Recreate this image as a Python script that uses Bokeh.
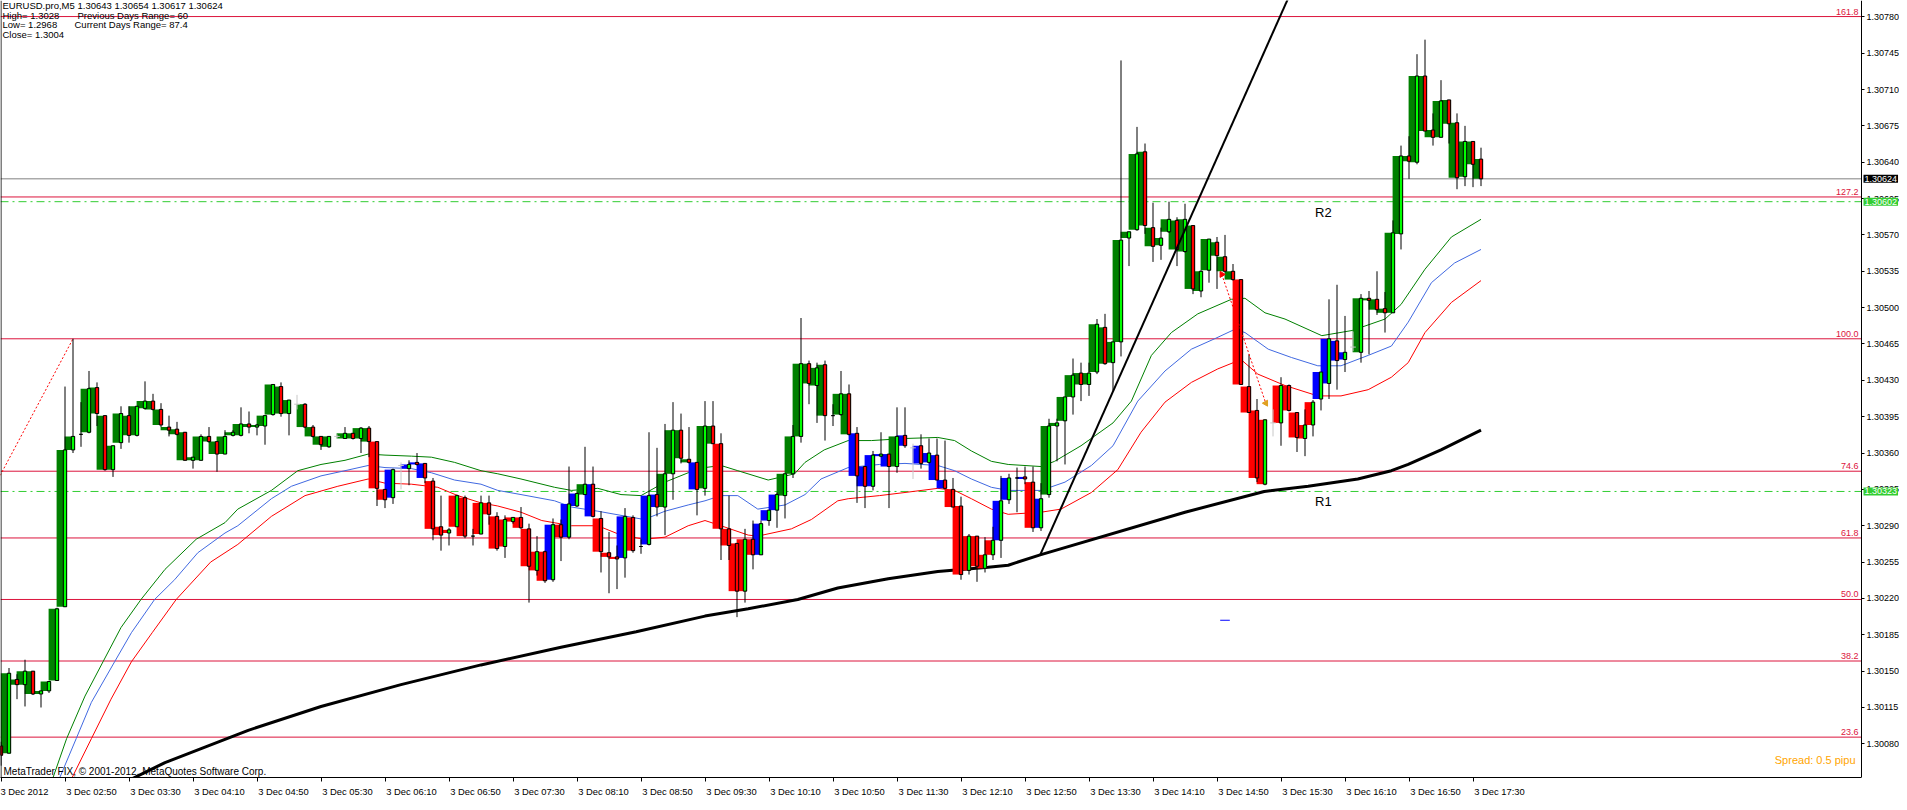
from math import pi
from bokeh.plotting import figure
from bokeh.models import LinearAxis, FixedTicker, PrintfTickFormatter, Range1d, Label, Span
from bokeh.embed import file_html
from bokeh.resources import INLINE
from bokeh.core.properties import value

# ---------------- data (EURUSD.pro, M5, 3 Dec 2012) ----------------
OPEN = [1.30078, 1.30071, 1.30142, 1.30137, 1.30150, 1.30128, 1.30131, 1.30141, 1.30212, 1.30363,
        1.30378, 1.30380, 1.30423, 1.30396, 1.30344, 1.30370, 1.30396, 1.30377, 1.30403, 1.30410,
        1.30402, 1.30385, 1.30383, 1.30380, 1.30353, 1.30353, 1.30376, 1.30371, 1.30359, 1.30377,
        1.30377, 1.30388, 1.30385, 1.30386, 1.30397, 1.30424, 1.30398, 1.30407, 1.30407, 1.30385,
        1.30376, 1.30366, 1.30376, 1.30374, 1.30379, 1.30374, 1.30384, 1.30371, 1.30325, 1.30317,
        1.30348, 1.30345, 1.30351, 1.30350, 1.30333, 1.30289, 1.30283, 1.30289, 1.30317, 1.30280,
        1.30282, 1.30312, 1.30299, 1.30270, 1.30294, 1.30298, 1.30287, 1.30247, 1.30265, 1.30238,
        1.30291, 1.30279, 1.30309, 1.30320, 1.30330, 1.30297, 1.30264, 1.30260, 1.30259, 1.30298,
        1.30270, 1.30272, 1.30320, 1.30308, 1.30340, 1.30382, 1.30354, 1.30351, 1.30326, 1.30386,
        1.30369, 1.30287, 1.30273, 1.30227, 1.30277, 1.30262, 1.30295, 1.30305, 1.30319, 1.30340,
        1.30376, 1.30446, 1.30425, 1.30445, 1.30396, 1.30397, 1.30417, 1.30379, 1.30347, 1.30328,
        1.30357, 1.30359, 1.30347, 1.30377, 1.30365, 1.30367, 1.30351, 1.30358, 1.30334, 1.30325,
        1.30309, 1.30247, 1.30280, 1.30249, 1.30262, 1.30276, 1.30315, 1.30336, 1.30337, 1.30332,
        1.30288, 1.30320, 1.30386, 1.30391, 1.30414, 1.30437, 1.30426, 1.30438, 1.30481, 1.30447,
        1.30467, 1.30567, 1.30575, 1.30650, 1.30577, 1.30560, 1.30573, 1.30584, 1.30554, 1.30579,
        1.30516, 1.30536, 1.30563, 1.30549, 1.30535, 1.30527, 1.30424, 1.30401, 1.30330, 1.30389,
        1.30389, 1.30425, 1.30399, 1.30374, 1.30387, 1.30412, 1.30427, 1.30468, 1.30450, 1.30462,
        1.30457, 1.30509, 1.30508, 1.30499, 1.30495, 1.30571, 1.30646, 1.30640, 1.30723, 1.30671,
        1.30664, 1.30700, 1.30678, 1.30626, 1.30660, 1.30643]
HIGH = [1.30082, 1.30153, 1.30147, 1.30161, 1.30150, 1.30131, 1.30140, 1.30211, 1.30424, 1.30470,
        1.30409, 1.30439, 1.30428, 1.30396, 1.30367, 1.30405, 1.30405, 1.30405, 1.30429, 1.30417,
        1.30408, 1.30396, 1.30390, 1.30380, 1.30356, 1.30378, 1.30385, 1.30371, 1.30382, 1.30382,
        1.30404, 1.30400, 1.30388, 1.30396, 1.30426, 1.30428, 1.30411, 1.30416, 1.30408, 1.30387,
        1.30376, 1.30376, 1.30378, 1.30385, 1.30379, 1.30385, 1.30386, 1.30371, 1.30325, 1.30345,
        1.30351, 1.30353, 1.30360, 1.30350, 1.30336, 1.30319, 1.30288, 1.30320, 1.30319, 1.30287,
        1.30319, 1.30319, 1.30303, 1.30300, 1.30298, 1.30308, 1.30292, 1.30280, 1.30266, 1.30297,
        1.30296, 1.30347, 1.30322, 1.30366, 1.30347, 1.30304, 1.30284, 1.30271, 1.30307, 1.30300,
        1.30277, 1.30380, 1.30365, 1.30388, 1.30409, 1.30398, 1.30385, 1.30351, 1.30410, 1.30410,
        1.30379, 1.30319, 1.30273, 1.30287, 1.30295, 1.30295, 1.30305, 1.30322, 1.30340, 1.30387,
        1.30490, 1.30449, 1.30447, 1.30449, 1.30407, 1.30439, 1.30426, 1.30385, 1.30347, 1.30362,
        1.30380, 1.30359, 1.30404, 1.30404, 1.30369, 1.30378, 1.30374, 1.30374, 1.30372, 1.30336,
        1.30318, 1.30282, 1.30280, 1.30279, 1.30289, 1.30338, 1.30340, 1.30346, 1.30347, 1.30347,
        1.30331, 1.30393, 1.30393, 1.30414, 1.30451, 1.30447, 1.30447, 1.30489, 1.30494, 1.30467,
        1.30738, 1.30573, 1.30674, 1.30658, 1.30601, 1.30577, 1.30602, 1.30587, 1.30600, 1.30579,
        1.30536, 1.30566, 1.30568, 1.30570, 1.30542, 1.30527, 1.30455, 1.30412, 1.30392, 1.30402,
        1.30433, 1.30426, 1.30399, 1.30402, 1.30411, 1.30438, 1.30508, 1.30522, 1.30492, 1.30477,
        1.30513, 1.30516, 1.30535, 1.30515, 1.30584, 1.30656, 1.30665, 1.30744, 1.30758, 1.30687,
        1.30719, 1.30700, 1.30687, 1.30675, 1.30660, 1.30654]
LOW = [1.30059, 1.30071, 1.30123, 1.30116, 1.30127, 1.30115, 1.30129, 1.30141, 1.30212, 1.30360,
       1.30366, 1.30379, 1.30386, 1.30343, 1.30337, 1.30364, 1.30370, 1.30376, 1.30402, 1.30401,
       1.30385, 1.30376, 1.30377, 1.30353, 1.30345, 1.30353, 1.30370, 1.30342, 1.30359, 1.30376,
       1.30376, 1.30379, 1.30377, 1.30368, 1.30396, 1.30395, 1.30377, 1.30402, 1.30384, 1.30375,
       1.30363, 1.30365, 1.30374, 1.30374, 1.30373, 1.30360, 1.30356, 1.30309, 1.30307, 1.30311,
       1.30325, 1.30329, 1.30348, 1.30331, 1.30276, 1.30266, 1.30271, 1.30289, 1.30278, 1.30271,
       1.30282, 1.30291, 1.30266, 1.30259, 1.30292, 1.30287, 1.30216, 1.30242, 1.30235, 1.30236,
       1.30256, 1.30277, 1.30308, 1.30320, 1.30298, 1.30245, 1.30225, 1.30229, 1.30240, 1.30264,
       1.30263, 1.30271, 1.30299, 1.30281, 1.30315, 1.30350, 1.30350, 1.30300, 1.30319, 1.30369,
       1.30257, 1.30257, 1.30202, 1.30216, 1.30248, 1.30262, 1.30290, 1.30288, 1.30297, 1.30336,
       1.30370, 1.30407, 1.30389, 1.30372, 1.30386, 1.30396, 1.30377, 1.30312, 1.30307, 1.30324,
       1.30356, 1.30307, 1.30341, 1.30365, 1.30335, 1.30345, 1.30350, 1.30334, 1.30325, 1.30308,
       1.30238, 1.30243, 1.30236, 1.30245, 1.30257, 1.30259, 1.30311, 1.30303, 1.30330, 1.30284,
       1.30285, 1.30317, 1.30352, 1.30349, 1.30397, 1.30410, 1.30415, 1.30436, 1.30445, 1.30420,
       1.30453, 1.30540, 1.30574, 1.30571, 1.30544, 1.30546, 1.30572, 1.30540, 1.30553, 1.30513,
       1.30510, 1.30524, 1.30518, 1.30534, 1.30526, 1.30426, 1.30399, 1.30332, 1.30329, 1.30376,
       1.30367, 1.30400, 1.30361, 1.30357, 1.30376, 1.30401, 1.30412, 1.30421, 1.30438, 1.30458,
       1.30447, 1.30455, 1.30493, 1.30476, 1.30495, 1.30556, 1.30624, 1.30638, 1.30670, 1.30656,
       1.30664, 1.30658, 1.30614, 1.30617, 1.30616, 1.30617]
CLOSE = [1.30069, 1.30148, 1.30137, 1.30150, 1.30128, 1.30131, 1.30140, 1.30210, 1.30363, 1.30376,
         1.30378, 1.30422, 1.30398, 1.30344, 1.30367, 1.30398, 1.30377, 1.30405, 1.30410, 1.30402,
         1.30387, 1.30382, 1.30378, 1.30353, 1.30356, 1.30376, 1.30371, 1.30359, 1.30376, 1.30380,
         1.30388, 1.30385, 1.30387, 1.30396, 1.30426, 1.30398, 1.30411, 1.30407, 1.30385, 1.30376,
         1.30368, 1.30376, 1.30376, 1.30379, 1.30374, 1.30384, 1.30371, 1.30326, 1.30315, 1.30344,
         1.30348, 1.30349, 1.30349, 1.30336, 1.30287, 1.30281, 1.30286, 1.30319, 1.30280, 1.30280,
         1.30312, 1.30301, 1.30268, 1.30296, 1.30298, 1.30288, 1.30251, 1.30265, 1.30237, 1.30291,
         1.30279, 1.30311, 1.30321, 1.30330, 1.30299, 1.30265, 1.30260, 1.30258, 1.30299, 1.30266,
         1.30270, 1.30319, 1.30308, 1.30340, 1.30382, 1.30355, 1.30351, 1.30325, 1.30386, 1.30369,
         1.30287, 1.30271, 1.30227, 1.30277, 1.30262, 1.30292, 1.30305, 1.30320, 1.30340, 1.30376,
         1.30446, 1.30427, 1.30442, 1.30396, 1.30396, 1.30417, 1.30378, 1.30338, 1.30328, 1.30358,
         1.30359, 1.30347, 1.30376, 1.30367, 1.30365, 1.30350, 1.30360, 1.30334, 1.30326, 1.30308,
         1.30243, 1.30280, 1.30251, 1.30262, 1.30276, 1.30314, 1.30336, 1.30336, 1.30335, 1.30288,
         1.30316, 1.30386, 1.30389, 1.30414, 1.30435, 1.30426, 1.30437, 1.30484, 1.30446, 1.30467,
         1.30565, 1.30573, 1.30648, 1.30579, 1.30559, 1.30567, 1.30585, 1.30556, 1.30585, 1.30518,
         1.30535, 1.30566, 1.30550, 1.30535, 1.30527, 1.30426, 1.30399, 1.30336, 1.30392, 1.30389,
         1.30425, 1.30401, 1.30375, 1.30387, 1.30409, 1.30438, 1.30470, 1.30449, 1.30457, 1.30462,
         1.30509, 1.30507, 1.30498, 1.30495, 1.30572, 1.30646, 1.30641, 1.30723, 1.30670, 1.30664,
         1.30699, 1.30677, 1.30625, 1.30660, 1.30638, 1.30624]
# body-colour indicator state per bar: g = dark green, r = red, b = blue, x = grey cross (no body)
STATE = ("rggggggggg" "gggggggggg" "gggggggggg" "gggggggxgg" "ggxggggrrb"
         "xbbbrrrrrr" "rrrrrrrrrb" "rbbgbrrrbr" "rbbggggbgg" "rrrrrbbbgg"
         "gggggggbbb" "bbgbxbbbbr" "rrrrrbbbbr" "bggggggggg" "gggggggggg"
         "gggggrrrrx" "rrrrrbbbbx" "gggggggggg" "gggggg")

TIME_LABELS = ["3 Dec 2012", "3 Dec 02:50", "3 Dec 03:30", "3 Dec 04:10", "3 Dec 04:50", "3 Dec 05:30",
               "3 Dec 06:10", "3 Dec 06:50", "3 Dec 07:30", "3 Dec 08:10", "3 Dec 08:50", "3 Dec 09:30",
               "3 Dec 10:10", "3 Dec 10:50", "3 Dec 11:30", "3 Dec 12:10", "3 Dec 12:50", "3 Dec 13:30",
               "3 Dec 14:10", "3 Dec 14:50", "3 Dec 15:30", "3 Dec 16:10", "3 Dec 16:50", "3 Dec 17:30"]
BARS_PER_LABEL = 8

# moving averages, read at bar positions
MA_GREEN_X = [5.0, 6.3, 8.2, 10.5, 12.75, 15, 17.5, 20.5, 24.4, 28, 29.6, 33.8, 37.1, 40, 43, 45.9, 48, 51.3,
              53.8, 56.7, 60, 62.1, 65, 69.2, 71.3, 74.6, 77.5, 80, 83, 85.9, 88, 90, 92.1, 95.9, 99.2,
              100.5, 102.9, 105.9, 108.8, 113, 117.1, 119.2, 121.3, 123.8, 125.9, 130, 131.7, 135, 139,
              141.3, 143.8, 146.3, 149.6, 153.8, 155.5, 158, 160.5, 165.1, 168.9, 173, 175, 178, 181.3, 185]
MA_GREEN = [1.30014, 1.30043, 1.30085, 1.30126, 1.30159, 1.30192, 1.30219, 1.30248, 1.30277, 1.30293, 1.30306,
            1.30324, 1.30343, 1.30349, 1.30353, 1.30359, 1.30358, 1.30357, 1.30356, 1.30351, 1.30343,
            1.30340, 1.30335, 1.30327, 1.30324, 1.30326, 1.30320, 1.30319, 1.30332, 1.30341, 1.30346,
            1.30348, 1.30343, 1.30334, 1.30340, 1.30351, 1.30363, 1.30372, 1.30372, 1.30374, 1.30375,
            1.30372, 1.30362, 1.30352, 1.30349, 1.30347, 1.30352, 1.30367, 1.30389, 1.30410, 1.30454,
            1.30476, 1.30494, 1.30508, 1.30509, 1.30495, 1.30489, 1.30473, 1.30478, 1.30489, 1.30503,
            1.30537, 1.30568, 1.30585]
MA_BLUE_X = [7.1, 9.4, 11.3, 14.2, 16.3, 19.2, 21.7, 24.6, 28, 29.6, 33.8, 36.3, 40, 43, 45.9, 48, 51.3, 53.8,
             56.7, 60, 62.1, 65, 69.2, 71.3, 74.6, 77.5, 80.4, 83, 85.9, 88, 90, 92.1, 94.6, 98, 100.5,
             102.5, 105.9, 109.8, 113, 117.1, 119.2, 121.3, 123.8, 125.9, 130, 133, 136.3, 139, 142.1,
             145.5, 148.8, 151.7, 154.2, 155.5, 158.4, 161.3, 164.6, 167.5, 170.9, 173.8, 175.9, 178.8,
             181.7, 185]
MA_BLUE = [1.30043, 1.30085, 1.30120, 1.30159, 1.30187, 1.30219, 1.30238, 1.30264, 1.30283, 1.30290, 1.30316,
           1.30328, 1.30338, 1.30343, 1.30348, 1.30346, 1.30345, 1.30341, 1.30334, 1.30330, 1.30324,
           1.30320, 1.30314, 1.30308, 1.30304, 1.30300, 1.30296, 1.30304, 1.30310, 1.30314, 1.30319,
           1.30319, 1.30306, 1.30310, 1.30320, 1.30335, 1.30346, 1.30349, 1.30350, 1.30348, 1.30343,
           1.30335, 1.30327, 1.30324, 1.30324, 1.30332, 1.30348, 1.30367, 1.30410, 1.30439, 1.30460,
           1.30470, 1.30479, 1.30476, 1.30460, 1.30452, 1.30444, 1.30444, 1.30454, 1.30463, 1.30486,
           1.30524, 1.30543, 1.30556]
MA_RED_X = [8.6, 11.3, 13.75, 16.3, 18.9, 21.9, 26.2, 29.6, 33.8, 38, 42.1, 45.9, 48, 51.3, 54.6, 57.1, 60,
            62.1, 65, 67.6, 71.3, 74.6, 77.5, 80.4, 83, 85.9, 88, 90, 93.4, 94.6, 98.8, 101.3, 104.6, 105.9,
            109.8, 113, 117.1, 119.2, 121.3, 123.8, 125.9, 130, 132.5, 136.3, 139.6, 142.5, 145.5, 148.8,
            152.1, 155, 157.1, 160.5, 164.6, 167.5, 170.9, 173.8, 175.9, 178, 181.3, 185]
MA_RED = [1.30043, 1.30085, 1.30123, 1.30159, 1.30187, 1.30219, 1.30255, 1.30272, 1.30299, 1.30319, 1.30328,
          1.30335, 1.30331, 1.30330, 1.30327, 1.30319, 1.30312, 1.30309, 1.30303, 1.30295, 1.30290,
          1.30290, 1.30281, 1.30277, 1.30279, 1.30290, 1.30295, 1.30290, 1.30281, 1.30280, 1.30287,
          1.30296, 1.30314, 1.30316, 1.30319, 1.30322, 1.30326, 1.30324, 1.30316, 1.30306, 1.30301,
          1.30303, 1.30306, 1.30322, 1.30344, 1.30380, 1.30409, 1.30428, 1.30441, 1.30450, 1.30436,
          1.30425, 1.30415, 1.30415, 1.30421, 1.30433, 1.30447, 1.30476, 1.30505, 1.30526]
MA_BLACK_X = [13.0, 15.5, 20.5, 30.9, 40, 50, 60, 70, 79.4, 88, 93.4, 99.6, 104.6, 110.9, 117.1, 123.4,
              125.9, 129.9, 148, 157.9, 163.4, 169.6, 173.8, 175.9, 180, 185]
MA_BLACK = [1.30035, 1.30043, 1.30062, 1.30093, 1.30116, 1.30137, 1.30156, 1.30173, 1.30188, 1.30203, 1.30210,
            1.30219, 1.30230, 1.30239, 1.30246, 1.30250, 1.30252, 1.30262, 1.30303, 1.30323, 1.30328,
            1.30335, 1.30343, 1.30349, 1.30363, 1.30382]

FIB_LEVELS = [23.6, 38.2, 50.0, 61.8, 74.6, 100.0, 127.2, 161.8]
FIB_0, FIB_100 = 1.29968, 1.30470
FIB_LINE_X = [-25.75, 9.0]
R_LEVELS = [1.30602, 1.30323]
R_NAMES = ["R2", "R1"]
R_LABEL_X = 164.25
TREND_X = [129.9, 161.6]
TREND_Y = [1.30262, 1.30810]
TRADE_X = [152.6, 158.1]
TRADE_Y = [1.30532, 1.30408]
BLUE_MARK_X = [152.4, 153.6]
BLUE_MARK_Y = 1.30199
PRICE_TICKS = [round(1.30045 + 0.00035 * i, 5) for i in range(22)]
BID = CLOSE[-1]
SPREAD_TEXT = "Spread: 0.5 pipu"

# ---------------- layout ----------------
FIG_W = 1899
FRAME_H = 777
PX_BAR = 8.0
X0 = -1.0 / 16
X1 = X0 + FIG_W / PX_BAR
X_AXIS = X0 + (1869 - 8) / PX_BAR        # where the price scale sits
PX_PER_PRICE = 103863.0
Y_TOP = 1.307957
Y_BOT = Y_TOP - FRAME_H / PX_PER_PRICE
DX = 1.0 / PX_BAR
DY = 1.0 / PX_PER_PRICE
FONT = value("Liberation Sans")

p = figure(width=FIG_W, frame_height=FRAME_H, x_range=Range1d(X0, X1), y_range=Range1d(Y_BOT, Y_TOP),
           output_backend="svg", toolbar_location=None, x_axis_location=None, y_axis_location=None,
           min_border_left=0, min_border_top=0, min_border_right=0, min_border_bottom=0)
p.background_fill_color = "white"
p.border_fill_color = "white"
p.outline_line_color = None
p.grid.visible = False

# price axis at a fixed position inside the chart window
yax = LinearAxis(ticker=FixedTicker(ticks=PRICE_TICKS), formatter=PrintfTickFormatter(format="%.5f"),
                 fixed_location=X_AXIS)
yax.axis_line_color = "black"
yax.major_tick_out = 3
yax.major_tick_in = 0
yax.minor_tick_line_color = None
yax.major_label_standoff = 2
yax.major_label_text_font = "Liberation Sans"
yax.major_label_text_font_size = "9px"
yax.major_label_text_color = "black"
p.add_layout(yax, "right")

tick_pos = [i * BARS_PER_LABEL for i in range(len(TIME_LABELS))]
label_pos, overrides = [], {}
for i, (t, lab) in enumerate(zip(tick_pos, TIME_LABELS)):
    off = 22.0 / PX_BAR if i == 0 else 26.5 / PX_BAR
    lp = t + off
    label_pos.append(lp)
    overrides[lp] = lab
xax = LinearAxis(ticker=FixedTicker(ticks=label_pos, minor_ticks=tick_pos), major_label_overrides=overrides,
                 bounds=(X0, X_AXIS))
xax.axis_line_color = "black"
xax.major_tick_line_color = None
xax.major_tick_out = 0
xax.major_tick_in = 0
xax.minor_tick_line_color = "black"
xax.minor_tick_out = 4
xax.minor_tick_in = 0
xax.major_label_standoff = 4
xax.major_label_text_font = "Liberation Sans"
xax.major_label_text_font_size = "9.4px"
xax.major_label_text_color = "black"
p.add_layout(xax, "below")

# left border of the chart window
p.add_layout(Span(location=X0 + 0.5 * DX, dimension="height", line_color="black", line_width=1))

# fibonacci levels
fib_prices = [FIB_0 + lv / 100.0 * (FIB_100 - FIB_0) for lv in FIB_LEVELS]
p.segment(x0=[X0] * len(fib_prices), x1=[X_AXIS] * len(fib_prices), y0=fib_prices, y1=fib_prices,
          line_color="#dc143c", line_width=1)
p.text(x=[X_AXIS - 3 * DX] * len(fib_prices), y=[v + 2 * DY for v in fib_prices],
       text=["%.1f" % lv for lv in FIB_LEVELS], text_font=FONT, text_font_size="9px",
       text_color="#dc143c", text_align="right", text_baseline="bottom")
p.line(x=FIB_LINE_X, y=[FIB_0, FIB_100], line_color="red", line_dash="2 2", line_width=1)

# support / resistance and bid lines
p.segment(x0=[X0] * 2, x1=[X_AXIS] * 2, y0=R_LEVELS, y1=R_LEVELS, line_color="#32cd32", line_width=1,
          line_dash="8 4 2 4")
p.segment(x0=[X0], x1=[X_AXIS], y0=[BID], y1=[BID], line_color="#808080", line_width=1)

# moving averages
p.line(x=MA_GREEN_X, y=MA_GREEN, line_color="#008000", line_width=1)
p.line(x=MA_BLUE_X, y=MA_BLUE, line_color="#4169e1", line_width=1)
p.line(x=MA_RED_X, y=MA_RED, line_color="#ff0000", line_width=1)
p.line(x=MA_BLACK_X, y=MA_BLACK, line_color="black", line_width=3)

# colour-state body blocks
n = min(len(OPEN), len(HIGH), len(LOW), len(CLOSE), len(STATE))
idx = list(range(n))
block_colors = {"g": "#008000", "r": "#ff0000", "b": "#0000ff"}
for st, col in block_colors.items():
    ks = [i for i in idx if STATE[i] == st]
    p.quad(left=[k - 1.05 for k in ks], right=[k + 0.25 for k in ks],
           bottom=[min(OPEN[k], CLOSE[k]) for k in ks], top=[max(OPEN[k], CLOSE[k]) for k in ks],
           fill_color=col, line_color=None)

# candles
real = [i for i in idx if STATE[i] != "x"]
ghost = [i for i in idx if STATE[i] == "x"]
p.segment(x0=real, x1=real, y0=[LOW[i] for i in real], y1=[HIGH[i] for i in real],
          line_color="black", line_width=1)
bull = [i for i in real if CLOSE[i] >= OPEN[i]]
bear = [i for i in real if CLOSE[i] < OPEN[i]]
p.vbar(x=bull, width=0.42, bottom=[OPEN[i] for i in bull], top=[CLOSE[i] for i in bull],
       fill_color="#00ff00", line_color="black", line_width=1)
p.vbar(x=bear, width=0.42, bottom=[CLOSE[i] for i in bear], top=[OPEN[i] for i in bear],
       fill_color="#ff0000", line_color="black", line_width=1)
p.segment(x0=ghost, x1=ghost, y0=[LOW[i] for i in ghost], y1=[HIGH[i] for i in ghost],
          line_color="#c8c8c8", line_width=1)
p.segment(x0=[i - 0.35 for i in ghost], x1=[i + 0.35 for i in ghost], y0=[CLOSE[i] for i in ghost],
          y1=[CLOSE[i] for i in ghost], line_color="#c8c8c8", line_width=1)

# drawn objects
p.line(x=TREND_X, y=TREND_Y, line_color="black", line_width=2)
p.line(x=TRADE_X, y=TRADE_Y, line_color="red", line_dash="2 2", line_width=1)
p.scatter(x=[TRADE_X[0]], y=[TRADE_Y[0]], marker="triangle", size=6, color="red", angle=-pi / 2)
p.scatter(x=[TRADE_X[1]], y=[TRADE_Y[1]], marker="triangle", size=6, color="#e0a020", angle=pi / 2)
p.segment(x0=[BLUE_MARK_X[0]], x1=[BLUE_MARK_X[1]], y0=[BLUE_MARK_Y], y1=[BLUE_MARK_Y],
          line_color="blue", line_width=1)
p.text(x=[R_LABEL_X] * 2, y=[v - 3 * DY for v in R_LEVELS], text=R_NAMES, text_font=FONT,
       text_font_size="13px", text_color="black", text_align="left", text_baseline="top")

# info texts
info_y = [Y_TOP - 5 * DY, Y_TOP - 14.5 * DY, Y_TOP - 24 * DY, Y_TOP - 33.5 * DY]
hdr = "EURUSD.pro,M5  %.5f %.5f %.5f %.5f" % (OPEN[-1], HIGH[-1], LOW[-1], CLOSE[-1])
p.text(x=[X0 + 2 * DX] * 4, y=info_y, text=[hdr, "High= 1.3028", "Low= 1.2968", "Close= 1.3004"],
       text_font=FONT, text_font_size="9.5px", text_color="black", text_baseline="middle")
p.text(x=[X0 + 77 * DX, X0 + 74 * DX], y=[info_y[1], info_y[2]],
       text=["Previous Days Range= 60", "Current Days Range= 87.4"],
       text_font=FONT, text_font_size="9.5px", text_color="black", text_baseline="middle")
p.text(x=[X0 + 3 * DX], y=[Y_BOT + 6 * DY], text=["MetaTrader FIX, \u00a9 2001-2012, MetaQuotes Software Corp."],
       text_font=FONT, text_font_size="10px", text_color="black", text_baseline="middle")
p.text(x=[X_AXIS - 6 * DX], y=[Y_BOT + 18 * DY], text=[SPREAD_TEXT], text_font=FONT, text_font_size="11px",
       text_color="#ffa500", text_align="right", text_baseline="middle")

# price boxes on the price scale
for price, bg in [(BID, "black"), (R_LEVELS[0], "#32cd32"), (R_LEVELS[1], "#32cd32")]:
    p.add_layout(Label(x=X_AXIS, y=price, x_offset=2, text="%.5f" % price, text_color="white",
                       text_font="Liberation Sans", text_font_size="9px", text_baseline="middle",
                       text_align="left", background_fill_color=bg, padding=1))

open("out.html", "w").write(file_html(p, INLINE))
